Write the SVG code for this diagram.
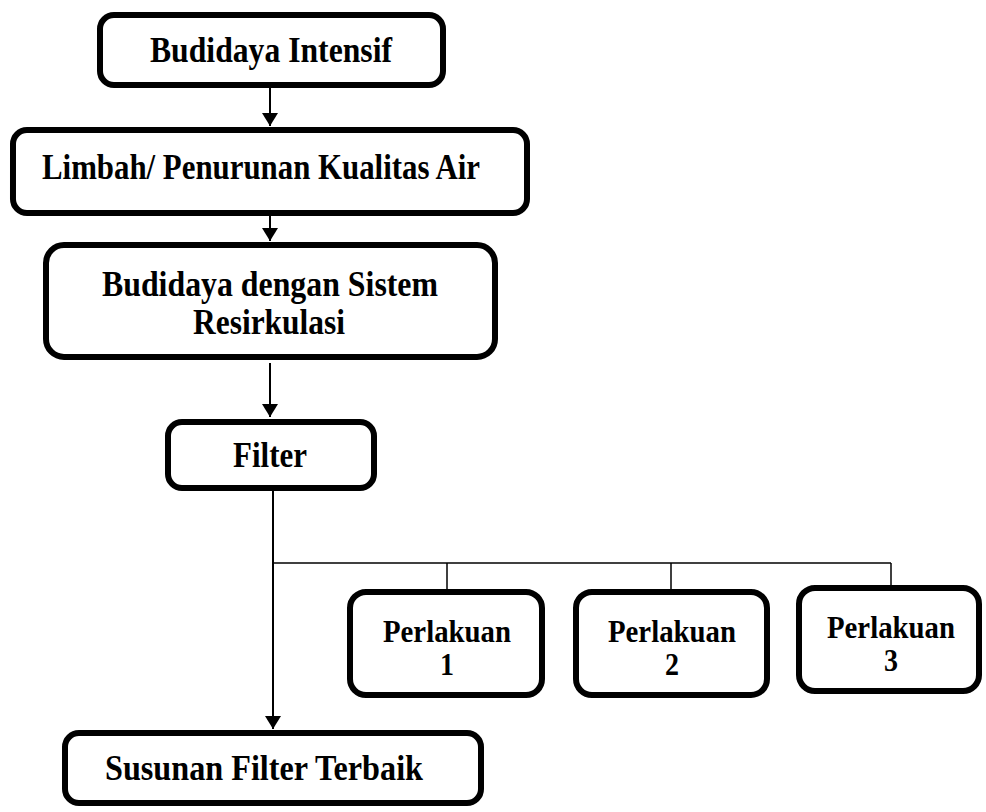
<svg xmlns="http://www.w3.org/2000/svg" width="986" height="812" viewBox="0 0 986 812">
<style>
.box{fill:#fff;stroke:#000;stroke-width:6}
.t{font-family:"Liberation Serif","Times New Roman",serif;font-weight:bold;font-size:35px;fill:#000;text-anchor:middle}
.s{font-size:31px}
.c{stroke:#000;stroke-width:2;fill:none}
.thin{stroke:#000;stroke-width:1.5;fill:none}
</style>
<defs>
<marker id="ah" viewBox="0 0 13 16" refX="13" refY="8" markerWidth="13" markerHeight="16" markerUnits="userSpaceOnUse" orient="auto">
<path d="M0,0 L13,8 L0,16 Z" fill="#000"/>
</marker>
</defs>
<rect width="986" height="812" fill="#fff"/>
<g id="connectors">
<line class="c" x1="270" y1="88" x2="270" y2="126" marker-end="url(#ah)"/>
<line class="c" x1="270" y1="216" x2="270" y2="241" marker-end="url(#ah)"/>
<line class="c" x1="270" y1="363" x2="270" y2="417" marker-end="url(#ah)"/>
<line class="c" x1="273" y1="490" x2="273" y2="729" marker-end="url(#ah)"/>
<polyline class="thin" points="273,563 891,563"/>
<line class="thin" x1="447" y1="563" x2="447" y2="590"/>
<line class="thin" x1="671" y1="563" x2="671" y2="590"/>
<line class="thin" x1="891" y1="563" x2="891" y2="586"/>
</g>
<g id="n1">
<rect class="box" x="100" y="15" width="343" height="70" rx="14"/>
<text class="t" x="271" y="62" textLength="242" lengthAdjust="spacingAndGlyphs">Budidaya Intensif</text>
</g>
<g id="n2">
<rect class="box" x="13" y="130" width="514" height="83" rx="14"/>
<text class="t" x="261" y="179" textLength="438" lengthAdjust="spacingAndGlyphs">Limbah/ Penurunan Kualitas Air</text>
</g>
<g id="n3">
<rect class="box" x="46" y="245" width="449" height="112" rx="18"/>
<text class="t" x="270" y="296" textLength="336" lengthAdjust="spacingAndGlyphs">Budidaya dengan Sistem</text>
<text class="t" x="269" y="334" textLength="152" lengthAdjust="spacingAndGlyphs">Resirkulasi</text>
</g>
<g id="n4">
<rect class="box" x="168" y="422" width="206" height="66" rx="14"/>
<text class="t" x="270" y="467" textLength="74" lengthAdjust="spacingAndGlyphs">Filter</text>
</g>
<g id="p1">
<rect class="box" x="350" y="592" width="192" height="103" rx="16"/>
<text class="t s" x="447" y="642" textLength="128" lengthAdjust="spacingAndGlyphs">Perlakuan</text>
<text class="t s" x="447" y="675" textLength="14" lengthAdjust="spacingAndGlyphs">1</text>
</g>
<g id="p2">
<rect class="box" x="576" y="592" width="191" height="103" rx="16"/>
<text class="t s" x="672" y="642" textLength="128" lengthAdjust="spacingAndGlyphs">Perlakuan</text>
<text class="t s" x="672" y="675" textLength="14" lengthAdjust="spacingAndGlyphs">2</text>
</g>
<g id="p3">
<rect class="box" x="799" y="588" width="180" height="103" rx="16"/>
<text class="t s" x="891" y="638" textLength="128" lengthAdjust="spacingAndGlyphs">Perlakuan</text>
<text class="t s" x="891" y="671" textLength="14" lengthAdjust="spacingAndGlyphs">3</text>
</g>
<g id="n5">
<rect class="box" x="65" y="733" width="416" height="70" rx="14"/>
<text class="t" x="264" y="780" textLength="318" lengthAdjust="spacingAndGlyphs">Susunan Filter Terbaik</text>
</g>
</svg>
